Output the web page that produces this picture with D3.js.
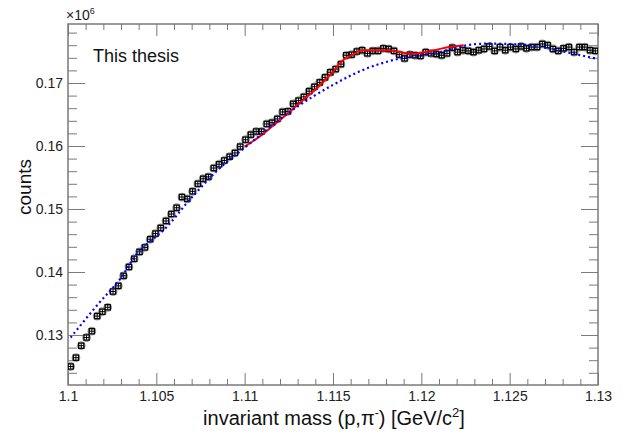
<!DOCTYPE html>
<html>
<head>
<meta charset="utf-8">
<script src="https://cdn.jsdelivr.net/npm/d3@7"></script>
<style>
  html, body { margin: 0; padding: 0; background: #fff; }
  svg { display: block; font-family: "Liberation Sans", Arial, Helvetica, sans-serif; }
</style>
</head>
<body>
<svg id="chart" width="623" height="436"></svg>
<script>
// ---- data (y in units of 10^6 counts) ----
const binStart = 1.1;
const binWidth = 0.0003;
const counts = [
  0.1250, 0.1264, 0.1283, 0.1296, 0.1306, 0.1330, 0.1337, 0.1344, 0.1369, 0.1378,
  0.1394, 0.1408, 0.1421, 0.1432, 0.1439, 0.1452, 0.1461, 0.1470, 0.1481, 0.1492,
  0.1502, 0.1519, 0.1516, 0.1528, 0.1540, 0.1548, 0.1551, 0.1565, 0.1571, 0.1577,
  0.1583, 0.1589, 0.1599, 0.1610, 0.1618, 0.1623, 0.1623, 0.1635, 0.1637, 0.1643,
  0.1654, 0.1655, 0.1667, 0.1672, 0.1678, 0.1687, 0.1694, 0.1701, 0.1709, 0.1717,
  0.1722, 0.1730, 0.1744, 0.1745, 0.1750, 0.1752, 0.1747, 0.1751, 0.1751, 0.1755,
  0.1754, 0.1751, 0.1745, 0.1739, 0.1745, 0.1744, 0.1743, 0.1749, 0.1747, 0.1746,
  0.1744, 0.1747, 0.1756, 0.1749, 0.1752, 0.1751, 0.1749, 0.1752, 0.1754, 0.1758,
  0.1751, 0.1757, 0.1752, 0.1757, 0.1754, 0.1758, 0.1755, 0.1757, 0.1757, 0.1762,
  0.1760, 0.1754, 0.1751, 0.1755, 0.1757, 0.1749, 0.1757, 0.1757, 0.1752, 0.1751
];
// background fit (blue dotted)
const bgX = [1.10015, 1.1017, 1.1029, 1.1040, 1.1055, 1.1069, 1.1086, 1.1103, 1.1127, 1.1150,
             1.1169, 1.1188, 1.1207, 1.1216, 1.1228, 1.1249, 1.1264, 1.1277, 1.1300];
const bgY = [0.1296, 0.1349, 0.1387, 0.1432, 0.1469, 0.1515, 0.1565, 0.1604, 0.1657, 0.1697,
             0.1723, 0.1739, 0.1747, 0.1753, 0.1761, 0.1762, 0.1759, 0.1752, 0.1738];
// signal + background fit (red solid)
const fitX = [1.1100, 1.1109, 1.1116, 1.1127, 1.1131, 1.1141, 1.1150, 1.1156, 1.1160, 1.1165,
              1.1171, 1.1178, 1.1184, 1.1192, 1.1198, 1.1207, 1.1216, 1.1224];
const fitY = [0.1599, 0.1616, 0.1632, 0.1658, 0.1668, 0.1692, 0.1718, 0.1737, 0.1743, 0.1751,
              0.1752, 0.1752, 0.1751, 0.1747, 0.1747, 0.1752, 0.1757, 0.1760];
const xMajor = [1.1, 1.105, 1.11, 1.115, 1.12, 1.125, 1.13];
const yMajor = [0.13, 0.14, 0.15, 0.16, 0.17];

// ---- layout ----
const L = 68, R = 598, T = 24, B = 385;
const svg = d3.select("#chart");
const x = d3.scaleLinear().domain([1.1, 1.13]).range([L, R]);
const y = d3.scaleLinear().domain([0.122063, 0.179365]).range([B, T]);

const xMinor = d3.range(0, 31).map(i => 1.1 + i * 0.001).filter(v => !xMajor.some(m => Math.abs(m - v) < 1e-9));
const yMinor = d3.range(0, 29).map(i => 0.122 + i * 0.002).filter(v => v > 0.1221 && v < 0.1793 && !yMajor.some(m => Math.abs(m - v) < 1e-9));

const axisColor = "#7a7a7a";
function styleAxis(g) {
  g.select(".domain").remove();
  g.selectAll(".tick line").attr("stroke", axisColor).attr("stroke-width", 1);
  g.selectAll(".tick text").attr("fill", "#222").style("font-size", "14px")
    .style("font-family", '"Liberation Sans", Arial, sans-serif');
}
const fmt = d => String(+d.toFixed(3));

// bottom
svg.append("g").attr("transform", `translate(0,${B})`)
  .call(d3.axisBottom(x).tickValues(xMajor).tickSize(-12).tickPadding(6).tickFormat(fmt)).call(styleAxis);
svg.append("g").attr("transform", `translate(0,${B})`)
  .call(d3.axisBottom(x).tickValues(xMinor).tickSize(-6).tickFormat("")).call(styleAxis);
// top
svg.append("g").attr("transform", `translate(0,${T})`)
  .call(d3.axisTop(x).tickValues(xMajor).tickSize(-12).tickFormat("")).call(styleAxis);
svg.append("g").attr("transform", `translate(0,${T})`)
  .call(d3.axisTop(x).tickValues(xMinor).tickSize(-6).tickFormat("")).call(styleAxis);
// left
svg.append("g").attr("transform", `translate(${L},0)`)
  .call(d3.axisLeft(y).tickValues(yMajor).tickSize(-17).tickPadding(5).tickFormat(fmt)).call(styleAxis);
svg.append("g").attr("transform", `translate(${L},0)`)
  .call(d3.axisLeft(y).tickValues(yMinor).tickSize(-9).tickFormat("")).call(styleAxis);
// right
svg.append("g").attr("transform", `translate(${R},0)`)
  .call(d3.axisRight(y).tickValues(yMajor).tickSize(-17).tickFormat("")).call(styleAxis);
svg.append("g").attr("transform", `translate(${R},0)`)
  .call(d3.axisRight(y).tickValues(yMinor).tickSize(-9).tickFormat("")).call(styleAxis);

// frame
svg.append("rect").attr("x", L).attr("y", T).attr("width", R - L).attr("height", B - T)
  .attr("fill", "none").attr("stroke", axisColor).attr("stroke-width", 1.5);

// clip
svg.append("clipPath").attr("id", "clip").append("rect")
  .attr("x", L).attr("y", T).attr("width", R - L).attr("height", B - T);
const plot = svg.append("g").attr("clip-path", "url(#clip)");

// data points
const pts = counts.map((v, i) => ({ cx: binStart + binWidth * (i + 0.5), v, err: Math.sqrt(v * 1e6) / 1e6 }));
const pg = plot.append("g");
pg.selectAll("circle").data(pts).join("circle")
  .attr("cx", d => x(d.cx)).attr("cy", d => y(d.v)).attr("r", 3.7)
  .attr("fill", "none").attr("stroke", "#999").attr("stroke-width", 1.4);
pg.selectAll("rect").data(pts).join("rect")
  .attr("x", d => x(d.cx) - 2.6).attr("y", d => y(d.v) - 2.6).attr("width", 5.2).attr("height", 5.2)
  .attr("fill", "none").attr("stroke", "#000").attr("stroke-width", 1.3);
pg.selectAll("line.h").data(pts).join("line").attr("class", "h")
  .attr("x1", d => x(d.cx - binWidth / 2)).attr("x2", d => x(d.cx + binWidth / 2))
  .attr("y1", d => y(d.v)).attr("y2", d => y(d.v)).attr("stroke", "#000").attr("stroke-width", 1);
pg.selectAll("line.v").data(pts).join("line").attr("class", "v")
  .attr("x1", d => x(d.cx)).attr("x2", d => x(d.cx))
  .attr("y1", d => y(d.v - d.err)).attr("y2", d => y(d.v + d.err)).attr("stroke", "#000").attr("stroke-width", 1);

// red fit
const line = d3.line().x(d => x(d[0])).y(d => y(d[1])).curve(d3.curveCatmullRom.alpha(0.5));
plot.append("path").datum(fitX.map((v, i) => [v, fitY[i]]))
  .attr("d", line).attr("fill", "none").attr("stroke", "#ff0000").attr("stroke-width", 2);
// blue background
plot.append("path").datum(bgX.map((v, i) => [v, bgY[i]]))
  .attr("d", line).attr("fill", "none").attr("stroke", "#0000ff").attr("stroke-width", 2.2)
  .attr("stroke-dasharray", "2,3");

// texts
svg.append("text").attr("x", 93).attr("y", 62).attr("fill", "#111").style("font-size", "18px").text("This thesis");
const mult = svg.append("text").attr("x", 66).attr("y", 20).attr("fill", "#222").style("font-size", "14px");
mult.append("tspan").text("\u00d710");
mult.append("tspan").attr("dy", -6).style("font-size", "9px").text("6");

const xt = svg.append("text").attr("x", 334).attr("y", 425).attr("text-anchor", "middle")
  .attr("fill", "#111").style("font-size", "20px");
xt.append("tspan").text("invariant mass (p,\u03c0");
xt.append("tspan").attr("dy", -8).style("font-size", "12px").text("-");
xt.append("tspan").attr("dy", 8).text(") [GeV/c");
xt.append("tspan").attr("dy", -8).style("font-size", "13px").text("2");
xt.append("tspan").attr("dy", 8).text("]");

svg.append("text").attr("transform", "translate(31,187) rotate(-90)").attr("text-anchor", "middle")
  .attr("fill", "#111").style("font-size", "19px").text("counts");
</script>
</body>
</html>
